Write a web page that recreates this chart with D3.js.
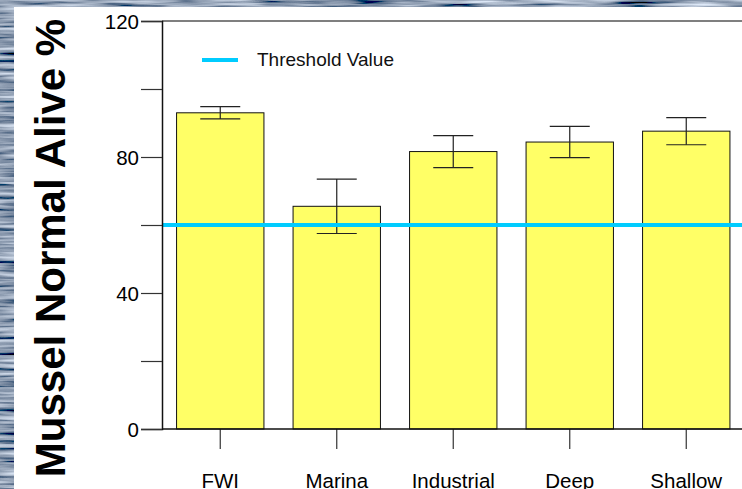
<!DOCTYPE html>
<html>

<head>
    <title>Mussel Normal Alive</title>
    <script src="https://d3js.org/d3.v7.min.js"></script>
    <style>
        body { margin: 0; }
    </style>
</head>

<body>

    <svg width="742" height="489" id="mainSvg"></svg>
    <script>
        const sites = ["FWI", "Marina", "Industrial", "Deep", "Shallow"];
        const alive = [93.0, 65.5, 81.6, 84.4, 87.6];
        const errors = [1.8, 8.0, 4.7, 4.6, 4.0];
        const yTicks = [0, 20, 40, 60, 80, 100, 120];
        const yLabels = ["0", "", "40", "", "80", "", "120"];
        const threshold = 60;

        const svg = d3.select("#mainSvg");
        const W = +svg.attr("width");
        const H = +svg.attr("height");

        // water-like backdrop
        const defs = svg.append("defs");
        const f = defs.append("filter").attr("id", "water")
            .attr("x", 0).attr("y", 0).attr("width", "100%").attr("height", "100%");
        f.append("feTurbulence").attr("type", "fractalNoise")
            .attr("baseFrequency", "0.015 0.25").attr("numOctaves", 3).attr("seed", 7);
        f.append("feColorMatrix").attr("type", "matrix")
            .attr("values", "1.3 0 0 0 -0.38  1.35 0 0 0 -0.34  1.4 0 0 0 -0.26  0 0 0 0 1");
        svg.append("rect").attr("width", W).attr("height", H).attr("fill", "#3f4d64");
        svg.append("rect").attr("width", W).attr("height", H).attr("filter", "url(#water)");

        // white panel
        svg.append("rect").attr("x", 14).attr("y", 7)
            .attr("width", W - 14).attr("height", H - 7).attr("fill", "#fff");

        const x = d3.scaleBand().domain(sites)
            .range([162, 744.5]).paddingInner(0.25).paddingOuter(0.125);
        const y = d3.scaleLinear().domain([0, 120]).range([429, 21]);

        const g = svg.append("g");

        // top frame line
        g.append("line").attr("x1", 162).attr("x2", W)
            .attr("y1", y(120)).attr("y2", y(120))
            .attr("stroke", "#555").attr("stroke-width", 1.5);

        // bars
        g.selectAll("rect.bar").data(sites).join("rect")
            .attr("class", "bar")
            .attr("x", d => x(d))
            .attr("y", (d, i) => y(alive[i]))
            .attr("width", x.bandwidth())
            .attr("height", (d, i) => y(0) - y(alive[i]))
            .attr("fill", "#ffff66")
            .attr("stroke", "#111").attr("stroke-width", 1);

        // error bars
        const cx = d => x(d) + x.bandwidth() / 2;
        const eb = g.selectAll("g.err").data(sites).join("g").attr("class", "err")
            .attr("stroke", "#222").attr("stroke-width", 1.2);
        eb.append("line").attr("x1", cx).attr("x2", cx)
            .attr("y1", (d, i) => y(alive[i] + errors[i]))
            .attr("y2", (d, i) => y(alive[i] - errors[i]));
        eb.append("line").attr("x1", d => cx(d) - 20).attr("x2", d => cx(d) + 20)
            .attr("y1", (d, i) => y(alive[i] + errors[i]))
            .attr("y2", (d, i) => y(alive[i] + errors[i]));
        eb.append("line").attr("x1", d => cx(d) - 20).attr("x2", d => cx(d) + 20)
            .attr("y1", (d, i) => y(alive[i] - errors[i]))
            .attr("y2", (d, i) => y(alive[i] - errors[i]));

        // threshold line
        g.append("line").attr("x1", 162).attr("x2", W)
            .attr("y1", y(threshold)).attr("y2", y(threshold))
            .attr("stroke", "#00ccff").attr("stroke-width", 4);

        // y axis
        const yAxis = d3.axisLeft(y).tickValues(yTicks)
            .tickFormat((d, i) => yLabels[i]).tickSize(21).tickPadding(2);
        const ya = g.append("g").attr("transform", "translate(162,0)").call(yAxis);
        ya.select(".domain").attr("stroke", "#111").attr("stroke-width", 1.5);
        ya.selectAll(".tick line").attr("stroke", "#333").attr("stroke-width", 1.2);
        ya.selectAll(".tick text").attr("font-family", "Liberation Sans, Arial, sans-serif")
            .attr("font-size", 20.5).attr("fill", "#000").attr("dy", "0.36em");

        // x axis
        const xAxis = d3.axisBottom(x).tickSize(20).tickPadding(24);
        const xa = g.append("g").attr("transform", "translate(0,429)").call(xAxis);
        xa.select(".domain").remove();
        xa.append("line").attr("x1", 162).attr("x2", W)
            .attr("stroke", "#111").attr("stroke-width", 1.5);
        xa.selectAll(".tick line").attr("stroke", "#333").attr("stroke-width", 1.2);
        xa.selectAll(".tick text").attr("font-family", "Liberation Sans, Arial, sans-serif")
            .attr("font-size", 20.5).attr("fill", "#000");

        // legend
        g.append("line").attr("x1", 202).attr("x2", 238).attr("y1", 60).attr("y2", 60)
            .attr("stroke", "#00ccff").attr("stroke-width", 4);
        g.append("text").attr("x", 257).attr("y", 66)
            .attr("font-family", "Liberation Sans, Arial, sans-serif")
            .attr("font-size", 19).attr("fill", "#111")
            .text("Threshold Value");

        // y title
        svg.append("text")
            .attr("transform", "translate(65,248) rotate(-90)")
            .attr("text-anchor", "middle")
            .attr("font-family", "Liberation Sans, Arial, sans-serif")
            .attr("font-weight", "bold").attr("font-size", 42)
            .attr("fill", "#000")
            .text("Mussel Normal Alive %");
    </script>
</body>

</html>
